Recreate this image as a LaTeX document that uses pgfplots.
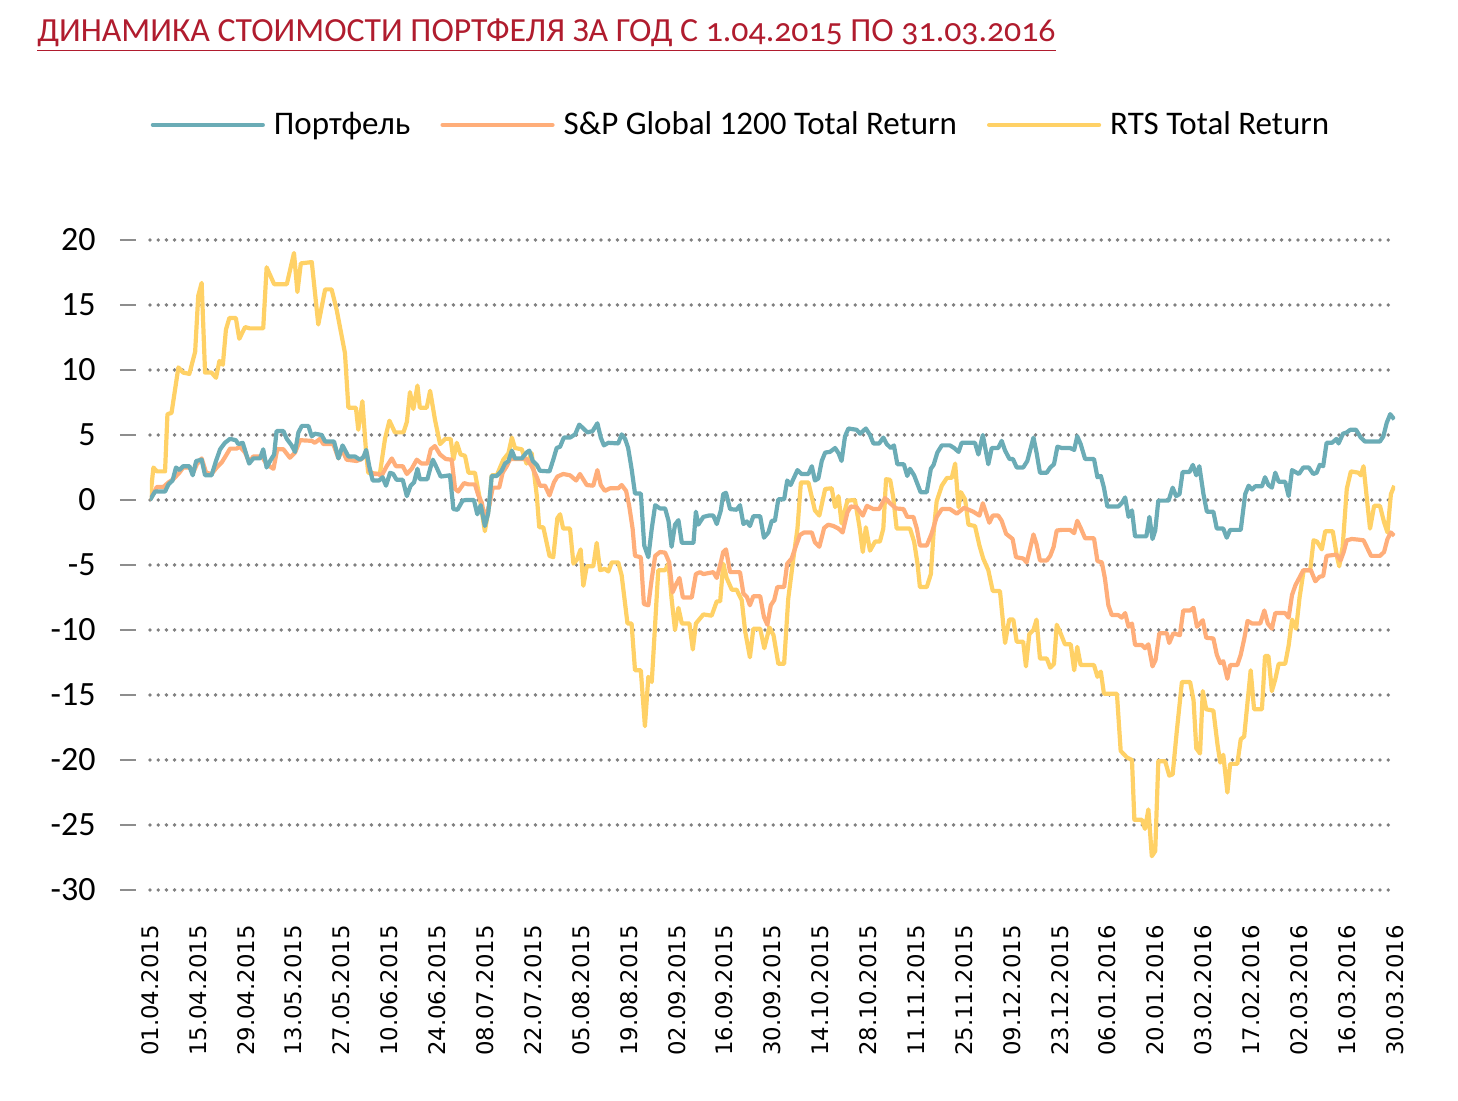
\documentclass[border=0pt]{standalone}
\usepackage{fontspec}
\setmainfont{Carlito}
\newfontfamily\dejavu{DejaVu Sans}
\newfontfamily\titlefont[Numbers=OldStyle]{Carlito}
\usepackage{pgfplots}
\pgfplotsset{compat=1.18}

\definecolor{titlered}{RGB}{176,28,46}
\definecolor{pfblue}{RGB}{107,172,182}
\definecolor{spor}{RGB}{255,174,122}
\definecolor{rtsyel}{RGB}{255,209,102}
\definecolor{gridgray}{RGB}{128,128,128}

\begin{document}
\begin{tikzpicture}
\useasboundingbox (-75pt,-105.5pt) rectangle (654pt,445pt);

\node[anchor=base west, inner sep=0pt, text=titlered] at (-56.5pt,424pt)
  {\titlefont\fontsize{16.9}{19}\selectfont\underline{ДИНАМИКА СТОИМОСТИ ПОРТФЕЛЯ ЗА ГОД С 1.04.2015 ПО 31.03.2016}};

\begin{axis}[
    at={(0,0)}, anchor=south west,
    scale only axis,
    width=622.5pt, height=325pt,
    xmin=0, xmax=364,
    ymin=-30, ymax=20,
    axis line style={draw=none},
    ymajorgrids,
    grid style={gridgray, line width=1.9pt, dash pattern=on 0pt off 4.1pt, line cap=round},
    ytick pos=left,
    ytick={-30,-25,...,20},
    yticklabels={-30,-25,-20,-15,-10,-5,0,5,10,15,20},
    yticklabel style={font=\fontsize{17}{20}\selectfont, anchor=east, inner sep=0pt},
    yticklabel shift=19pt,
    tick align=outside,
    major tick length=8pt,
    ytick style={draw=gridgray!90, line width=1.1pt, xshift=-7pt},
    xtick={0,14,...,364},
    xticklabels={01.04.2015,15.04.2015,29.04.2015,13.05.2015,27.05.2015,10.06.2015,24.06.2015,08.07.2015,22.07.2015,05.08.2015,19.08.2015,02.09.2015,16.09.2015,30.09.2015,14.10.2015,28.10.2015,11.11.2015,25.11.2015,09.12.2015,23.12.2015,06.01.2016,20.01.2016,03.02.2016,17.02.2016,02.03.2016,16.03.2016,30.03.2016},
    xtick style={draw=none},
    xticklabel style={rotate=90, anchor=east, inner sep=0pt, font=\dejavu\fontsize{11.4}{13}\selectfont},
    xticklabel shift=9.5pt,
    legend columns=3,
    legend style={draw=none, fill=none, at={(0.4755,1.177)}, anchor=center,
        font=\fontsize{16.5}{19}\selectfont,
        /tikz/every even column/.append style={column sep=13pt}},
    legend image code/.code={\draw[#1, line width=2.1pt, line cap=round] (0pt,0pt) -- (55pt,0pt); \path (57.5pt,0pt);},
    every axis plot/.append style={line width=2.1pt, line join=round},
]
\addlegendimage{pfblue}
\addlegendentry{Портфель}
\addlegendimage{spor}
\addlegendentry{S\&P Global 1200 Total Return}
\addlegendimage{rtsyel}
\addlegendentry{RTS Total Return}

% RTS Total Return
\addplot[rtsyel, forget plot] coordinates {
(0,0) (1.0,2.5) (2.0,2.2) (4.4,2.2) (5.1,6.6) (6.3,6.7) (8.3,10.2) (9.7,9.8) (11.5,9.7)
(13.2,11.4) (14.1,15.7) (15.1,16.7) (16.1,9.8) (18.0,9.8) (19.3,9.4) (20.3,10.7) (21.3,10.4)
(22.2,13.1) (23.2,14.0) (25.1,14.0) (26.1,12.4) (27.8,13.3) (29.2,13.2) (33.1,13.2) (34.1,17.9)
(36.3,16.6) (40.0,16.6) (42.1,19.0) (43.1,16.0) (44.1,18.2) (47.3,18.3) (49.2,13.5) (51.2,16.2)
(53.1,16.2) (54.6,14.6) (57.0,11.3) (58.0,7.1) (60.2,7.1) (60.9,5.4) (62.1,7.6) (63.2,3.6)
(63.8,2.1) (67.2,2.0) (68.7,4.7) (70.0,6.1) (71.6,5.2) (74.1,5.2) (75.1,6.0) (76.0,8.3)
(77.0,7.0) (78.2,8.8) (78.9,7.1) (80.9,7.1) (81.9,8.4) (83.3,6.2) (84.8,4.3) (86.3,4.7)
(87.9,4.7) (88.7,3.1) (89.7,4.4) (90.8,3.5) (92.1,3.4) (93.1,2.1) (95.0,2.1) (96.5,0)
(97.9,-2.4) (99.2,-0.4) (99.9,1.9) (101.4,1.9) (103.3,3.1) (104.8,3.6) (105.8,4.8) (106.7,4.0)
(108.7,3.9) (110.1,2.8) (111.6,3.6) (113.1,0.3) (113.8,-2.1) (115.0,-2.1) (116.8,-4.3) (117.9,-4.4)
(119.1,-1.4) (119.9,-1.1) (120.8,-2.2) (122.8,-2.2) (123.8,-4.9) (124.8,-4.6) (125.9,-3.8) (126.7,-6.6)
(127.7,-5.1) (129.6,-5.1) (130.6,-3.3) (131.6,-5.4) (133.0,-5.3) (134.0,-5.5) (135.0,-4.8) (136.9,-4.8)
(137.9,-5.8) (139.6,-9.5) (140.8,-9.5) (141.8,-13.1) (143.5,-13.1) (144.7,-17.4) (145.7,-13.6) (146.7,-14.0)
(147.7,-9.5) (148.6,-5.4) (150.6,-5.4) (151.6,-4.9) (152.5,-7.6) (153.5,-10.0) (154.5,-8.3) (155.5,-9.5)
(157.7,-9.5) (158.7,-11.5) (159.6,-9.5) (161.8,-8.8) (164.2,-8.9) (165.7,-7.8) (166.7,-7.8) (167.6,-4.9)
(168.6,-6.0) (170.1,-6.9) (171.5,-6.9) (173.0,-7.7) (174.0,-10.1) (175.4,-12.1) (176.4,-9.9) (178.4,-9.9)
(179.6,-11.4) (181.1,-9.8) (182.3,-10.4) (183.7,-12.6) (185.4,-12.6) (186.6,-7.6) (188.1,-4.5) (189.3,-2.2)
(190.3,1.35) (192.5,1.35) (194.4,-0.8) (195.7,-1.2) (197.4,0.85) (199.3,0.9) (200.3,-0.55) (201.3,0.3)
(202.2,-1.8) (203.9,-0.05) (206.1,0) (207.4,-2.0) (208.4,-4.0) (209.3,-2.1) (210.5,-3.9) (212.0,-3.2)
(213.4,-3.2) (214.4,-2.2) (215.2,1.6) (216.4,1.55) (217.3,0.2) (218.3,-2.2) (222.2,-2.2) (223.4,-3.2)
(224.4,-4.9) (225.1,-6.7) (227.1,-6.7) (228.3,-5.7) (229.1,-2.5) (230.0,-0.1) (231.5,1.1) (233.0,1.7)
(234.4,1.7) (235.4,2.8) (236.4,-0.55) (237.1,0.6) (238.3,0.05) (239.3,-1.9) (241.2,-2.0) (242.5,-3.5)
(243.6,-4.5) (245.1,-5.4) (246.4,-7.0) (248.5,-7.0) (250.0,-11.0) (251.2,-9.2) (252.4,-9.2) (253.4,-10.9)
(255.3,-10.9) (256.1,-12.8) (257.1,-10.3) (258.3,-10.0) (259.2,-9.2) (260.2,-12.2) (262.2,-12.2) (263.2,-12.9)
(264.3,-12.6) (265.1,-9.6) (266.3,-10.3) (267.5,-11.1) (269.2,-11.1) (270.2,-13.1) (271.1,-11.3) (272.1,-12.7)
(276.0,-12.7) (277.0,-13.6) (278.0,-13.2) (278.9,-14.9) (282.7,-14.9) (283.8,-19.3) (285.6,-19.8) (287.1,-20.0)
(287.8,-24.6) (290.0,-24.6) (290.9,-25.3) (291.9,-23.8) (292.9,-27.4) (293.9,-27.0) (294.8,-20.1) (296.8,-20.1)
(298.0,-21.2) (299.0,-21.1) (300.2,-17.8) (301.7,-14.0) (304.1,-14.0) (305.1,-15.4) (305.9,-19.1) (307.0,-19.5)
(307.8,-14.7) (308.8,-16.1) (310.9,-16.2) (312.1,-18.8) (312.9,-20.2) (313.8,-19.6) (315.0,-22.5) (315.8,-20.3)
(317.9,-20.3) (318.9,-18.4) (319.9,-18.2) (321.8,-13.1) (322.8,-16.1) (325.1,-16.1) (326.0,-12.0) (327.0,-12.0)
(328.0,-14.7) (329.0,-13.8) (330.0,-12.6) (331.9,-12.6) (332.9,-11.2) (333.9,-9.2) (335.1,-9.9) (336.1,-7.5)
(337.3,-5.4) (339.2,-5.4) (340.2,-3.1) (341.2,-3.2) (342.6,-3.8) (343.6,-2.4) (345.8,-2.4) (347.0,-4.3)
(347.7,-5.1) (348.7,-3.6) (349.9,0.85) (351.1,2.2) (353.3,2.1) (354.0,1.9) (354.8,2.6) (355.8,0.05)
(356.7,-2.2) (357.9,-0.45) (359.6,-0.45) (360.8,-1.7) (361.8,-2.5) (362.8,0.45) (363.8,1.1)
};

% S&P Global 1200 Total Return
\addplot[spor, forget plot] coordinates {
(0,0) (2.0,1.0) (3.9,1.0) (5.4,1.35) (6.8,1.6) (8.6,2.1) (9.7,2.5) (11.7,2.5) (12.7,2.15)
(13.7,2.75) (15.1,3.2) (16.4,2.1) (18.0,2.0) (19.5,2.5) (21.0,2.9) (22.4,3.5) (23.4,3.95)
(25.3,3.95) (26.3,4.1) (27.8,3.65) (29.0,2.9) (30.2,3.35) (32.7,3.35) (34.1,2.75) (36.1,2.4)
(37.2,3.9) (39.0,3.9) (40.9,3.25) (42.4,3.65) (43.9,4.6) (47.3,4.55) (48.2,4.4) (49.7,4.7)
(50.7,4.3) (53.6,4.3) (55.1,3.2) (56.1,3.9) (57.5,3.1) (60.4,3.0) (61.9,3.15) (63.4,3.65)
(64.1,2.25) (65.3,2.0) (66.7,2.0) (67.7,1.85) (69.2,2.6) (70.7,3.2) (71.9,2.6) (73.9,2.6)
(75.1,2.0) (76.5,2.4) (78.0,3.1) (79.4,2.8) (81.1,2.8) (82.1,3.9) (83.3,4.15) (84.8,3.5)
(86.5,3.15) (88.2,3.1) (89.2,0.85) (90.1,0.65) (91.8,1.3) (93.1,1.2) (95.0,1.2) (96.0,0.35)
(97.0,-0.2) (97.9,-1.45) (99.2,-0.4) (100.2,0.95) (102.1,0.95) (103.1,2.1) (104.3,2.6) (105.3,3.15)
(110.1,3.15) (111.6,2.6) (113.1,1.75) (114.0,1.1) (115.5,1.1) (116.8,0.35) (118.1,1.35) (119.1,1.8)
(120.8,2.0) (122.8,1.9) (124.6,1.5) (125.7,2.0) (127.7,1.15) (129.6,1.1) (130.8,2.3) (131.8,1.15)
(133.0,0.7) (134.5,0.9) (136.9,0.9) (137.9,1.15) (139.2,0.7) (140.1,-0.45) (141.1,-2.2) (141.8,-4.3)
(143.5,-4.4) (144.4,-8.0) (145.7,-8.1) (146.7,-6.05) (147.7,-4.3) (149.1,-4.0) (150.6,-4.05) (151.8,-4.8)
(152.8,-7.1) (153.8,-6.5) (154.8,-6.0) (155.8,-7.5) (158.4,-7.5) (159.6,-5.7) (160.8,-5.55) (161.8,-5.7)
(164.7,-5.55) (165.7,-6.0) (166.7,-5.0) (167.6,-4.0) (168.4,-3.8) (169.6,-5.55) (172.5,-5.55) (173.5,-7.2)
(174.5,-7.45) (175.4,-8.1) (176.4,-7.4) (178.4,-7.4) (179.5,-9.0) (180.5,-9.6) (181.5,-8.1) (182.5,-7.7)
(183.4,-6.7) (185.4,-6.7) (186.3,-4.9) (187.6,-4.5) (188.9,-3.5) (190.0,-2.7) (191.2,-2.5) (193.5,-2.5)
(194.4,-3.25) (195.7,-3.6) (197.1,-2.15) (198.3,-1.9) (199.8,-2.0) (201.3,-2.2) (202.5,-2.5) (203.9,-0.95)
(204.9,-0.5) (206.6,-0.55) (208.4,-1.2) (209.6,-0.45) (211.5,-0.7) (213.2,-0.7) (214.9,0.15) (216.6,-0.3)
(218.1,-0.65) (220.3,-0.7) (221.4,-1.3) (223.2,-1.3) (224.2,-2.2) (225.1,-3.5) (227.1,-3.5) (228.5,-2.6)
(230.0,-1.3) (231.5,-0.7) (233.9,-0.7) (235.9,-1.05) (238.0,-0.6) (240.7,-0.9) (242.5,-1.2) (243.5,-0.25)
(245.4,-1.75) (246.4,-1.2) (248.0,-1.2) (249.0,-1.6) (250.3,-2.6) (252.2,-3.0) (253.2,-4.4) (255.3,-4.5)
(256.3,-4.8) (257.3,-3.75) (258.3,-2.65) (259.2,-3.4) (260.2,-4.65) (262.2,-4.65) (263.2,-4.3) (264.2,-3.6)
(265.1,-2.35) (266.6,-2.3) (269.0,-2.3) (270.2,-2.55) (271.1,-1.6) (272.1,-2.15) (273.4,-2.95) (276.0,-2.95)
(277.0,-4.7) (278.3,-4.8) (279.2,-6.05) (280.2,-8.1) (281.2,-8.85) (283.1,-8.85) (284.1,-9.05) (285.1,-8.7)
(286.1,-9.75) (287.1,-9.5) (288.0,-11.15) (290.0,-11.15) (290.9,-11.4) (291.9,-11.1) (293.1,-12.8) (294.0,-12.3)
(295.1,-10.25) (297.3,-10.25) (298.0,-11.0) (299.2,-10.25) (301.1,-10.4) (302.1,-8.5) (304.1,-8.5) (305.1,-8.3)
(306.1,-9.75) (307.8,-9.25) (308.8,-10.6) (310.9,-10.65) (311.9,-11.9) (312.9,-12.55) (313.8,-12.4) (315.0,-13.75)
(315.8,-12.7) (317.9,-12.7) (318.9,-11.9) (319.9,-10.7) (320.9,-9.3) (322.2,-9.5) (324.6,-9.5) (325.8,-8.5)
(326.8,-9.5) (328.0,-9.9) (329.0,-8.7) (331.9,-8.7) (332.9,-9.05) (333.9,-7.3) (334.9,-6.55) (335.9,-6.05)
(337.2,-5.4) (339.4,-5.4) (340.7,-6.25) (342.0,-5.9) (343.0,-5.85) (344.0,-4.3) (346.9,-4.2) (348.1,-4.65)
(349.0,-4.0) (349.9,-3.1) (351.4,-3.0) (353.3,-3.05) (354.8,-3.1) (357.0,-4.3) (359.6,-4.3) (360.8,-4.0)
(361.8,-3.0) (362.8,-2.5) (363.8,-2.75)
};

% Portfolio
\addplot[pfblue, forget plot] coordinates {
(0,0) (1.5,0.65) (4.4,0.65) (5.4,1.2) (6.6,1.5) (7.6,2.5) (8.6,2.3) (9.7,2.6) (11.5,2.6)
(12.5,1.9) (13.5,3.0) (15.1,3.1) (16.1,1.9) (18.0,1.9) (19.3,3.0) (20.5,3.9) (21.9,4.4)
(23.4,4.7) (25.1,4.6) (25.8,4.3) (27.1,4.4) (29.0,2.8) (30.2,3.2) (32.2,3.2) (33.1,3.9)
(34.1,2.5) (35.1,3.0) (36.3,3.5) (37.0,5.3) (39.0,5.3) (40.0,4.7) (41.4,4.2) (42.4,3.7)
(43.4,5.2) (44.4,5.7) (46.3,5.7) (47.3,4.9) (48.2,5.1) (50.2,5.0) (51.2,4.5) (53.8,4.5)
(55.1,3.2) (56.3,4.2) (58.0,3.35) (59.9,3.35) (61.4,3.1) (62.4,3.3) (63.2,3.85) (64.1,2.6)
(65.1,1.5) (67.0,1.5) (68.0,1.75) (69.0,1.1) (70.2,2.1) (71.1,2.0) (72.1,1.55) (73.9,1.55)
(75.1,0.3) (76.2,1.1) (77.2,1.35) (78.2,2.4) (78.9,1.6) (81.1,1.6) (81.9,2.4) (82.7,3.1)
(83.8,2.5) (85.0,1.8) (87.7,1.9) (88.7,-0.7) (89.9,-0.75) (91.4,-0.05) (92.4,0) (94.7,0)
(95.7,-1.1) (96.7,-0.4) (97.9,-2.0) (98.9,-1.0) (99.9,1.85) (101.4,1.85) (102.8,2.25) (103.8,2.8)
(104.8,3.0) (105.8,3.8) (106.7,3.2) (108.7,3.2) (110.1,3.65) (110.9,3.8) (111.9,3.0) (113.1,2.7)
(114.0,2.25) (116.8,2.2) (117.9,3.1) (118.9,4.0) (119.9,4.1) (121.0,4.8) (122.8,4.8) (124.3,5.05)
(125.5,5.8) (126.7,5.5) (127.9,5.2) (129.4,5.3) (130.8,5.9) (131.8,4.8) (132.7,4.2) (134.0,4.4)
(136.9,4.35) (137.9,5.05) (138.9,4.7) (139.8,4.0) (140.8,2.4) (141.8,0.5) (143.5,0.5) (144.5,-3.5)
(145.7,-4.4) (146.7,-2.2) (147.7,-0.4) (149.1,-0.65) (150.6,-0.65) (151.6,-1.6) (152.5,-3.6) (153.5,-1.9)
(154.5,-1.55) (155.5,-3.3) (158.9,-3.3) (159.6,-0.9) (160.3,-1.9) (161.8,-1.3) (163.3,-1.2) (164.7,-1.2)
(165.7,-1.85) (166.9,-0.8) (167.6,0.45) (168.4,0.55) (169.6,-0.7) (171.5,-0.75) (172.5,-0.4) (173.5,-1.85)
(174.5,-1.65) (175.4,-2.0) (176.4,-1.25) (178.4,-1.25) (179.5,-2.9) (180.8,-2.5) (181.8,-1.6) (182.7,-1.6)
(183.7,0.05) (185.4,0.05) (186.3,1.5) (187.3,1.15) (189.3,2.3) (190.5,2.0) (192.5,2.0) (193.5,2.6)
(194.4,1.5) (195.4,1.65) (196.4,3.0) (197.4,3.65) (198.8,3.7) (200.3,4.0) (201.3,3.6) (202.2,3.0)
(203.2,4.9) (204.2,5.5) (206.6,5.4) (207.6,5.1) (209.3,5.5) (210.5,5.0) (211.5,4.35) (213.2,4.35)
(214.4,4.8) (215.4,4.3) (216.6,4.0) (217.5,4.2) (218.5,2.75) (220.4,2.75) (221.4,1.85) (222.2,2.4)
(223.4,1.9) (225.3,0.6) (227.1,0.6) (228.3,2.4) (229.1,2.7) (230.2,3.65) (231.5,4.2) (233.9,4.2)
(235.1,4.0) (236.4,3.7) (237.3,4.4) (241.2,4.4) (242.2,3.5) (243.5,5.0) (245.1,2.75) (246.1,4.0)
(248.0,4.0) (249.0,4.55) (250.0,3.8) (251.3,3.15) (252.3,3.15) (253.4,2.5) (255.3,2.5) (256.5,3.0)
(257.3,3.8) (258.3,4.8) (259.2,3.65) (260.2,2.1) (262.2,2.1) (263.2,2.5) (264.3,2.75) (265.3,4.1)
(266.6,4.0) (269.0,4.0) (270.2,3.85) (271.1,4.9) (272.1,4.3) (273.4,3.15) (276.0,3.15) (277.0,1.75)
(278.0,1.85) (278.9,0.95) (279.9,-0.5) (283.1,-0.5) (284.1,-0.25) (285.1,0.2) (286.1,-1.3) (287.1,-0.8)
(288.0,-2.8) (291.3,-2.8) (292.2,-1.3) (293.1,-3.0) (293.9,-2.35) (294.8,-0.05) (297.8,-0.05) (299.0,0.95)
(300.0,0.3) (301.0,0.45) (301.9,2.15) (303.9,2.15) (304.9,2.7) (305.9,1.9) (306.8,2.6) (308.0,0.45)
(309.0,-0.9) (310.9,-0.9) (311.9,-2.2) (313.8,-2.2) (314.8,-2.9) (315.8,-2.3) (318.9,-2.3) (320.2,0.45)
(321.2,1.1) (322.2,0.8) (323.1,1.05) (325.1,1.05) (326.0,1.75) (327.0,1.15) (328.0,0.95) (329.0,2.1)
(330.0,1.4) (331.9,1.4) (332.9,0.3) (333.9,2.3) (335.9,2.0) (337.2,2.5) (338.8,2.5) (340.1,2.0)
(341.1,2.1) (342.0,2.7) (343.0,2.6) (344.0,4.4) (345.6,4.4) (346.9,4.7) (347.5,4.35) (348.8,5.1)
(349.9,5.2) (350.9,5.4) (352.6,5.4) (354.0,4.8) (355.2,4.5) (359.6,4.5) (360.6,4.9) (361.6,5.95)
(362.6,6.6) (363.8,6.2)
};
\end{axis}
\end{tikzpicture}
\end{document}
